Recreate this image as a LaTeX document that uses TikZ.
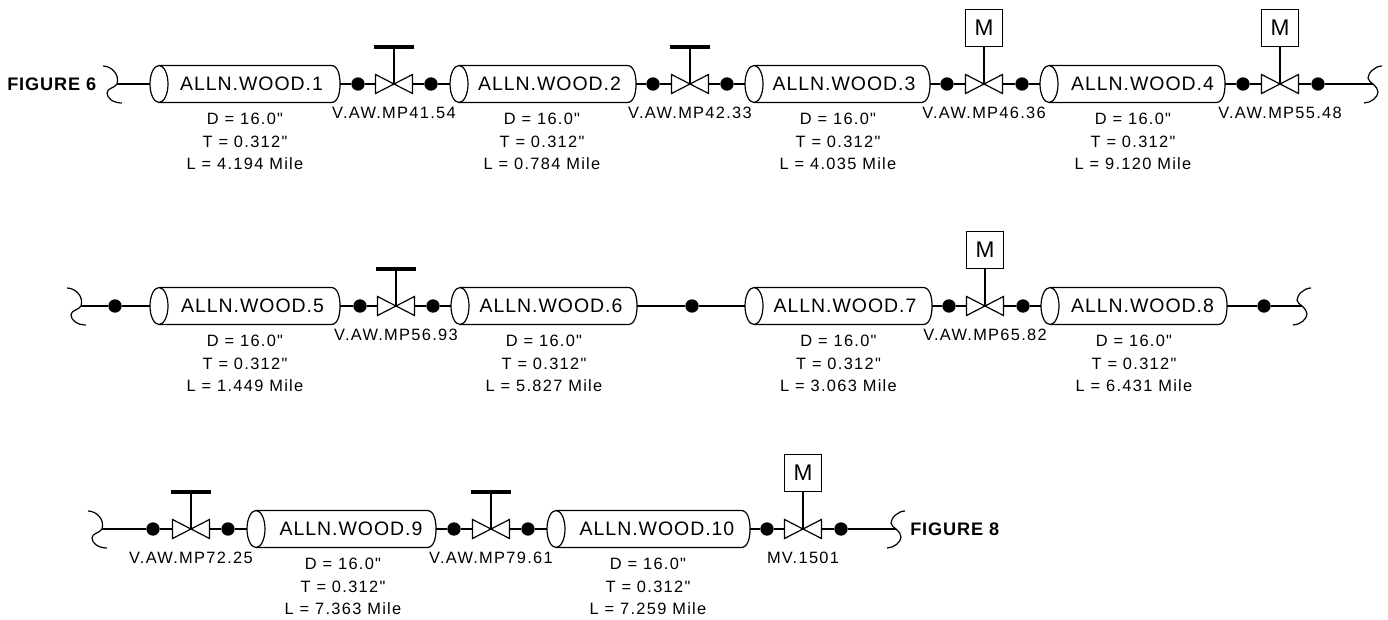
\documentclass[tikz,border=0pt]{standalone}
\usepackage{fontspec}
\setmainfont{Liberation Sans}
\newfontfamily\cylfont[LetterSpace=5]{Liberation Sans}
\newfontfamily\smallfont[LetterSpace=8]{Liberation Sans}
\newfontfamily\figfont[LetterSpace=5]{Liberation Sans Bold}
\tikzset{
  px/.style={x=0.75pt,y=-0.75pt},
  pipe/.style={line width=0.9pt,black},
  cyltext/.style={inner sep=0pt,font=\fontsize{14.6pt}{16pt}\selectfont\cylfont,anchor=center},
  info/.style={inner sep=0pt,font=\fontsize{12.3pt}{16.8pt}\selectfont\smallfont,align=center,anchor=north},
  vlabel/.style={inner sep=0pt,font=\fontsize{12.3pt}{13pt}\selectfont\smallfont,anchor=center},
  figlabel/.style={inner sep=0pt,font=\fontsize{13.6pt}{14pt}\selectfont\figfont,anchor=west},
  dot/.style={circle,fill=black,inner sep=0pt,minimum size=10pt},
  motor/.style={draw,line width=0.9pt,fill=white,inner sep=0pt,minimum size=27.5pt,font=\fontsize{17pt}{18pt}\selectfont},
  stem/.style={line width=2.1pt},
  hbar/.style={line width=2.4pt},
  thin stem/.style={line width=0.9pt},
  squig/.style={line width=0.9pt}
}
% \cy{name}{x0}{x1}{y}{title}{infox}{length}{titlex}
\newcommand{\cy}[8]{%
  \path[draw,line width=0.9pt,fill=white] (#2+9,#4-18.5) -- (#3-9,#4-18.5)
    .. controls (#3-2,#4-18.5) and (#3,#4-9) .. (#3,#4)
    .. controls (#3,#4+9) and (#3-2,#4+18.5) .. (#3-9,#4+18.5) -- (#2+9,#4+18.5);
  \path[draw,line width=0.9pt,fill=white] (#2+9,#4) ellipse [x radius=9,y radius=18.5];
  \node[minimum width=#3*0.75pt-#2*0.75pt,minimum height=27.75pt,inner sep=0pt] (#1) at ({(#2+#3)/2},#4) {};
  \node[cyltext] (#1t) at (#8,#4) {#5};
  \node[info] (#1i) at (#6,#4+29) {D = 16.0"\\T = 0.312"\\L = #7 Mile};
}
% \va{name}{x}{y}{label}{labely}
\newcommand{\va}[5]{%
  \coordinate (#1) at (#2,#3);
  \draw[line width=0.9pt,fill=white] (#2-18.5,#3-9.5) -- (#2+18.5,#3+9.5) -- (#2+18.5,#3-9.5) -- (#2-18.5,#3+9.5) -- cycle;
  \coordinate (#1L) at (#2-18.5,#3);
  \coordinate (#1R) at (#2+18.5,#3);
  \node[vlabel] (#1n) at (#2,#5) {#4};
}
\newcommand{\hw}[3]{%
  \coordinate (#1h) at (#2,#3-37);
  \draw[stem] (#1) -- (#1h);
  \draw[hbar] (#2-20,#3-37) -- (#2+20,#3-37);
}
\newcommand{\mo}[3]{%
  \node[motor] (#1m) at (#2,#3-56) {M};
  \draw[thin stem] (#1) -- (#1m);
}
\newcommand{\brk}[3]{%
  \coordinate (#1) at (#2,#3);
  \draw[squig] (#2-14,#3-18) .. controls (#2-6,#3-18) and (#2+3,#3-10) .. (#2,#3)
    .. controls (#2-2,#3+4) and (#2-10,#3+4) .. (#2-10,#3+9)
    .. controls (#2-10,#3+14) and (#2-4,#3+19) .. (#2+5,#3+19);
}
\newcommand{\brr}[3]{%
  \coordinate (#1) at (#2,#3);
  \draw[squig] (#2+9,#3-18) .. controls (#2+2,#3-18) and (#2-5,#3-11) .. (#2-5,#3-6)
    .. controls (#2-5,#3-3) and (#2-2,#3-2) .. (#2,#3)
    .. controls (#2+3,#3+3) and (#2+5,#3+5) .. (#2+5,#3+8)
    .. controls (#2+5,#3+13) and (#2-2,#3+19) .. (#2-9,#3+19);
}
\newcommand{\dt}[3]{\node[dot] (#1) at (#2,#3) {};}
\begin{document}
\begin{tikzpicture}[px]
\useasboundingbox (0,0) rectangle (1388,620);
% ---------- row 1
\def\ya{84}
\brk{ba}{117}{\ya}
\cy{c1}{150}{340}{\ya}{ALLN.WOOD.1}{245}{4.194}{251.5}
\cy{c2}{450}{636}{\ya}{ALLN.WOOD.2}{542}{0.784}{549.5}
\cy{c3}{745}{930}{\ya}{ALLN.WOOD.3}{838}{4.035}{844}
\cy{c4}{1040}{1225}{\ya}{ALLN.WOOD.4}{1133}{9.120}{1142.5}
\va{v1}{394}{\ya}{V.AW.MP41.54}{113}
\va{v2}{690}{\ya}{V.AW.MP42.33}{113}
\va{v3}{984}{\ya}{V.AW.MP46.36}{113}
\va{v4}{1280}{\ya}{V.AW.MP55.48}{113}
\hw{v1}{394}{\ya}\hw{v2}{690}{\ya}
\mo{v3}{984}{\ya}\mo{v4}{1280}{\ya}
\dt{d1}{358}{\ya}\dt{d2}{431}{\ya}
\dt{d3}{653}{\ya}\dt{d4}{727}{\ya}
\dt{d5}{947}{\ya}\dt{d6}{1022}{\ya}
\dt{d7}{1243}{\ya}\dt{d8}{1318}{\ya}
\brr{bb}{1373}{\ya}
\draw[pipe] (ba) -- (c1.west) (c1.east) -- (d1) -- (v1L) (v1R) -- (d2) -- (c2.west)
  (c2.east) -- (d3) -- (v2L) (v2R) -- (d4) -- (c3.west)
  (c3.east) -- (d5) -- (v3L) (v3R) -- (d6) -- (c4.west)
  (c4.east) -- (d7) -- (v4L) (v4R) -- (d8) -- (bb);
\node[figlabel] (f6) at (7,\ya) {FIGURE 6};
% ---------- row 2
\def\yb{306}
\brk{bc}{81}{\yb}
\dt{d9}{115}{\yb}
\cy{c5}{150}{340}{\yb}{ALLN.WOOD.5}{245}{1.449}{252.5}
\cy{c6}{451}{637}{\yb}{ALLN.WOOD.6}{544}{5.827}{551}
\cy{c7}{745}{932}{\yb}{ALLN.WOOD.7}{838.5}{3.063}{845}
\cy{c8}{1041}{1227}{\yb}{ALLN.WOOD.8}{1134}{6.431}{1142.5}
\va{v5}{396}{\yb}{V.AW.MP56.93}{335}
\va{v6}{985}{\yb}{V.AW.MP65.82}{335}
\hw{v5}{396}{\yb}\mo{v6}{985}{\yb}
\dt{d10}{360}{\yb}\dt{d11}{433}{\yb}
\dt{d12}{692}{\yb}
\dt{d13}{949}{\yb}\dt{d14}{1023}{\yb}
\dt{d15}{1264}{\yb}
\brr{bd}{1302}{\yb}
\draw[pipe] (bc) -- (d9) -- (c5.west) (c5.east) -- (d10) -- (v5L) (v5R) -- (d11) -- (c6.west)
  (c6.east) -- (d12) -- (c7.west)
  (c7.east) -- (d13) -- (v6L) (v6R) -- (d14) -- (c8.west)
  (c8.east) -- (d15) -- (bd);
% ---------- row 3
\def\yc{529}
\brk{be}{102}{\yc}
\dt{d16}{153}{\yc}
\va{v7}{191}{\yc}{V.AW.MP72.25}{558}
\dt{d17}{228}{\yc}
\cy{c9}{247}{436}{\yc}{ALLN.WOOD.9}{343}{7.363}{351}
\dt{d18}{454}{\yc}
\va{v8}{491}{\yc}{V.AW.MP79.61}{558}
\dt{d19}{528}{\yc}
\cy{c10}{547}{750}{\yc}{ALLN.WOOD.10}{648}{7.259}{657}
\dt{d20}{767}{\yc}
\va{v9}{803}{\yc}{MV.1501}{558}
\dt{d21}{841}{\yc}
\hw{v7}{191}{\yc}\hw{v8}{491}{\yc}\mo{v9}{803}{\yc}
\brr{bf}{896}{\yc}
\draw[pipe] (be) -- (d16) -- (v7L) (v7R) -- (d17) -- (c9.west)
  (c9.east) -- (d18) -- (v8L) (v8R) -- (d19) -- (c10.west)
  (c10.east) -- (d20) -- (v9L) (v9R) -- (d21) -- (bf);
\node[figlabel] (f8) at (910,\yc) {FIGURE 8};
\end{tikzpicture}
\end{document}
